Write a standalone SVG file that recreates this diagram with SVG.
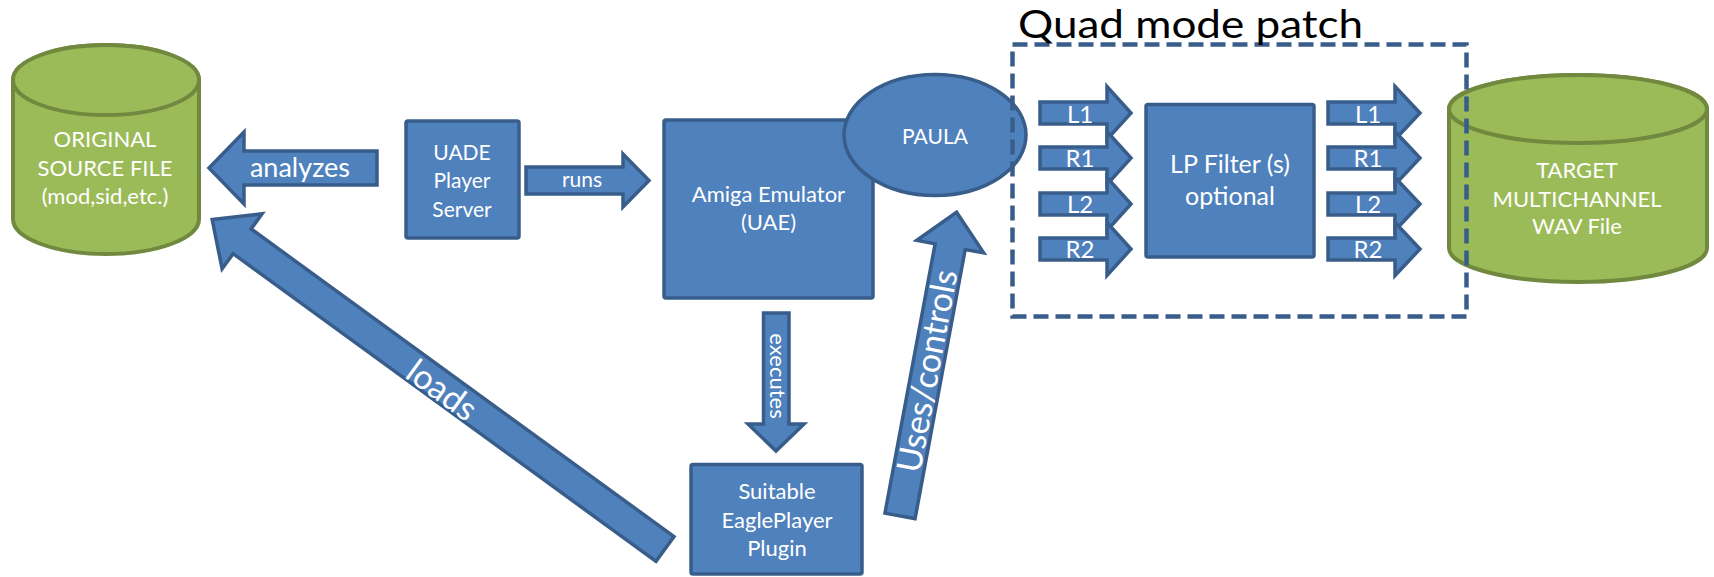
<svg xmlns="http://www.w3.org/2000/svg" width="1714" height="577" viewBox="0 0 1714 577">
<style>
.blue{fill:#4F81BD;stroke:#385D8A;stroke-width:3.5;stroke-linejoin:miter}
.green{fill:#9BBB59;stroke:#71893F;stroke-width:4}
.t{font-family:Lato,"Open Sans","Liberation Sans",sans-serif;fill:#FFFFFF;text-anchor:middle}
.dash{fill:none;stroke:#385D8A;stroke-width:4.5;stroke-dasharray:15 7}
</style>
<rect width="1714" height="577" fill="#FFFFFF"/>

<g id="source-file">
<path class="green" d="M13,80 A93,35 0 0 1 199,80 L199,219 A93,35 0 0 1 13,219 Z"/>
<ellipse class="green" cx="106" cy="80" rx="93" ry="35"/>
<text class="t" font-size="22" x="105" y="147">ORIGINAL</text>
<text class="t" font-size="22" x="105" y="176">SOURCE FILE</text>
<text class="t" font-size="22" x="105" y="204">(mod,sid,etc.)</text>
</g>

<g id="uade">
<rect class="blue" x="406" y="121" width="113" height="117" rx="2"/>
<text class="t" font-size="21" x="462" y="159.5">UADE</text>
<text class="t" font-size="21" x="462" y="188">Player</text>
<text class="t" font-size="21" x="462" y="216.5">Server</text>
</g>

<g id="amiga">
<rect class="blue" x="664" y="120" width="209" height="178" rx="2"/>
<text class="t" font-size="22" x="768.5" y="202">Amiga Emulator</text>
<text class="t" font-size="22" x="768.5" y="230">(UAE)</text>
</g>

<g id="paula">
<ellipse class="blue" cx="935" cy="135" rx="91" ry="60.5"/>
<text class="t" font-size="21" x="935" y="144">PAULA</text>
</g>

<g id="plugin">
<rect class="blue" x="691" y="464.5" width="171" height="109.5" rx="2"/>
<text class="t" font-size="22" x="777" y="499">Suitable</text>
<text class="t" font-size="22" x="777" y="527.5">EaglePlayer</text>
<text class="t" font-size="22" x="777" y="556">Plugin</text>
</g>

<g id="lp-filter">
<rect class="blue" x="1146" y="104.5" width="168" height="152.5" rx="2"/>
<text class="t" font-size="25" x="1230" y="173">LP Filter (s)</text>
<text class="t" font-size="25" x="1230" y="205">optional</text>
</g>

<g id="target-file">
<path class="green" d="M1449,109 A129,34 0 0 1 1707,109 L1707,248 A129,34 0 0 1 1449,248 Z"/>
<ellipse class="green" cx="1578" cy="109" rx="129" ry="34"/>
<text class="t" font-size="22" x="1577" y="178">TARGET</text>
<text class="t" font-size="22" x="1577" y="206.5">MULTICHANNEL</text>
<text class="t" font-size="22" x="1577" y="234">WAV File</text>
</g>

<g id="connectors">
<g id="analyzes">
<polygon class="blue" points="209,168 244,132 244,151 377,151 377,185 244,185 244,204"/>
<text class="t" font-size="27" x="300" y="177">analyzes</text>
</g>
<g id="runs">
<polygon class="blue" points="526,167 623,167 623,154 649,180.5 623,207 623,194 526,194"/>
<text class="t" font-size="21" x="582" y="187">runs</text>
</g>
<g id="executes">
<polygon class="blue" points="763.5,313 789,313 789,424 804,424 776,451 748,424 763.5,424"/>
<text class="t" font-size="22" transform="translate(776,376) rotate(90)" x="0" y="6">executes</text>
</g>
<g id="loads">
<polygon class="blue" transform="translate(665,549) rotate(216.04)" points="0,-15.3 523,-15.3 523,-34 560,0 523,34 523,15.3 0,15.3"/>
<text class="t" font-size="34" transform="translate(442,390) rotate(36.04)" x="0" y="12">loads</text>
</g>
<g id="uses">
<polygon class="blue" transform="translate(900,516) rotate(-79.45)" points="0,-15.3 274,-15.3 274,-34 309,0 274,34 274,15.3 0,15.3"/>
<text class="t" font-size="34" transform="translate(927,371) rotate(-79.45)" x="0" y="12">Uses/controls</text>
</g>
<g id="inputs">
<polygon class="blue" points="1040,102 1107,102 1107,86.5 1131,113 1107,139.5 1107,124 1040,124"/>
<text class="t" font-size="24" x="1080" y="122.5">L1</text>
<polygon class="blue" points="1040,147 1107,147 1107,131.5 1131,158 1107,184.5 1107,169 1040,169"/>
<text class="t" font-size="24" x="1080" y="167">R1</text>
<polygon class="blue" points="1040,193 1107,193 1107,177.5 1131,204 1107,230.5 1107,215 1040,215"/>
<text class="t" font-size="24" x="1080" y="212.5">L2</text>
<polygon class="blue" points="1040,238 1107,238 1107,222.5 1131,249 1107,275.5 1107,260 1040,260"/>
<text class="t" font-size="24" x="1080" y="258">R2</text>
</g>
<g id="outputs">
<polygon class="blue" points="1328,102 1395,102 1395,86.5 1420,113 1395,139.5 1395,124 1328,124"/>
<text class="t" font-size="24" x="1368" y="122.5">L1</text>
<polygon class="blue" points="1328,147 1395,147 1395,131.5 1420,158 1395,184.5 1395,169 1328,169"/>
<text class="t" font-size="24" x="1368" y="167">R1</text>
<polygon class="blue" points="1328,193 1395,193 1395,177.5 1420,204 1395,230.5 1395,215 1328,215"/>
<text class="t" font-size="24" x="1368" y="212.5">L2</text>
<polygon class="blue" points="1328,238 1395,238 1395,222.5 1420,249 1395,275.5 1395,260 1328,260"/>
<text class="t" font-size="24" x="1368" y="258">R2</text>
</g>
</g>

<g id="quad-mode-patch">
<rect class="dash" x="1012.5" y="44.5" width="454" height="272"/>
<text font-family="Lato,'Open Sans','Liberation Sans',sans-serif" font-size="38" fill="#000000" x="1018" y="37.5" textLength="345" lengthAdjust="spacingAndGlyphs">Quad mode patch</text>
</g>
</svg>
